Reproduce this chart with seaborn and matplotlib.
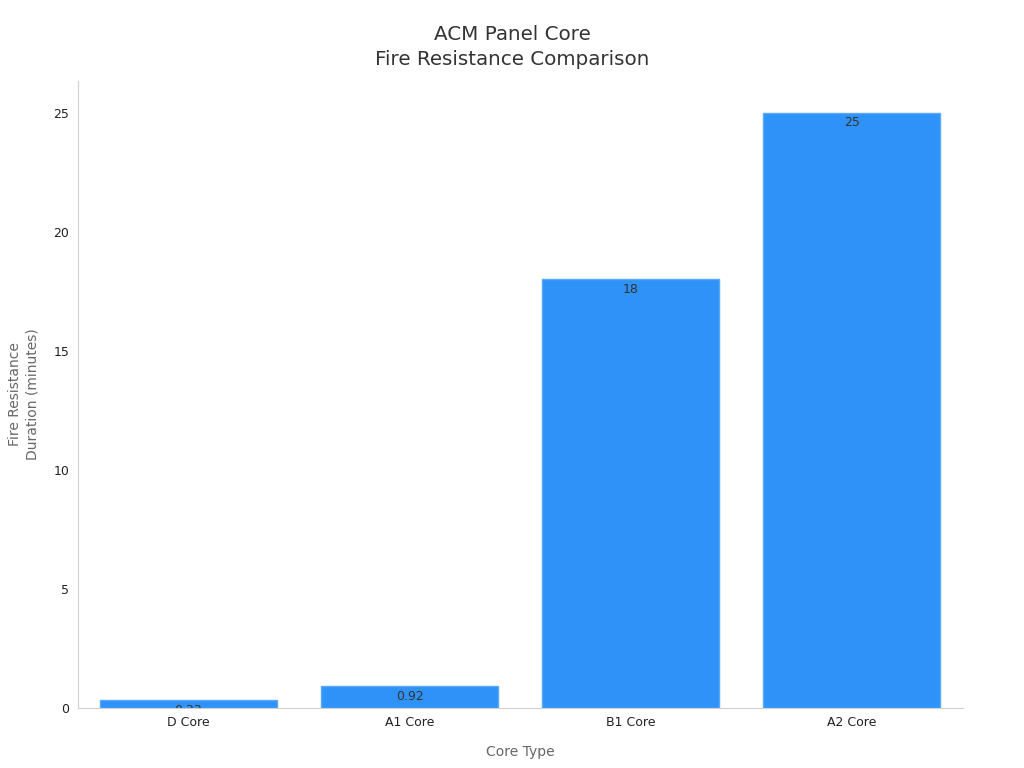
import matplotlib
matplotlib.use("Agg")
import matplotlib.pyplot as plt
import matplotlib.transforms as mtransforms
import seaborn as sns
import pandas as pd

cores = ["D Core", "A1 Core", "B1 Core", "A2 Core"]
minutes = [0.33, 0.92, 18, 25]
labels = ["0.33", "0.92", "18", "25"]

df = pd.DataFrame({"Core Type": cores, "Minutes": minutes})

sns.set_style("white")
plt.rcParams["font.family"] = ["DejaVu Sans"]

fig, ax = plt.subplots(figsize=(10.24, 7.68), dpi=100)
sns.barplot(data=df, x="Core Type", y="Minutes", color="#2f92f9", saturation=1,
            width=0.8, edgecolor="#5aa8fa", linewidth=1, ax=ax)

# value labels sit inside the top of each bar, clipped to the bar
for bar, lab in zip(ax.patches, labels):
    t = ax.text(bar.get_x() + bar.get_width() / 2, bar.get_height() - 0.15, lab,
                ha="center", va="top", fontsize=9, color="#333333")
    t.set_clip_on(True)
    t.set_clip_box(mtransforms.TransformedBbox(bar.get_bbox(), ax.transData))

ax.set_xlim(-0.5, 3.5)
ax.set_ylim(0, 26.35)
ax.set_yticks([0, 5, 10, 15, 20, 25])

for s in ["top", "right"]:
    ax.spines[s].set_visible(False)
for s in ["left", "bottom"]:
    ax.spines[s].set_color("#d0d0d0")
    ax.spines[s].set_linewidth(0.8)
ax.tick_params(axis="both", length=4, width=0.8, color="#555555", labelsize=9,
               labelcolor="#222222", pad=2)

ax.set_xlabel("Core Type", fontsize=10, color="#666666", labelpad=11)
ax.set_ylabel("Fire Resistance\nDuration (minutes)", fontsize=10, color="#666666",
              labelpad=10, linespacing=1.3)
fig.suptitle("ACM Panel Core\nFire Resistance Comparison", fontsize=14.3, color="#333333",
             x=0.5, y=0.968, linespacing=1.42)

fig.subplots_adjust(left=0.076, right=0.94, top=0.895, bottom=0.078)
fig.savefig("out.png", dpi=100)
